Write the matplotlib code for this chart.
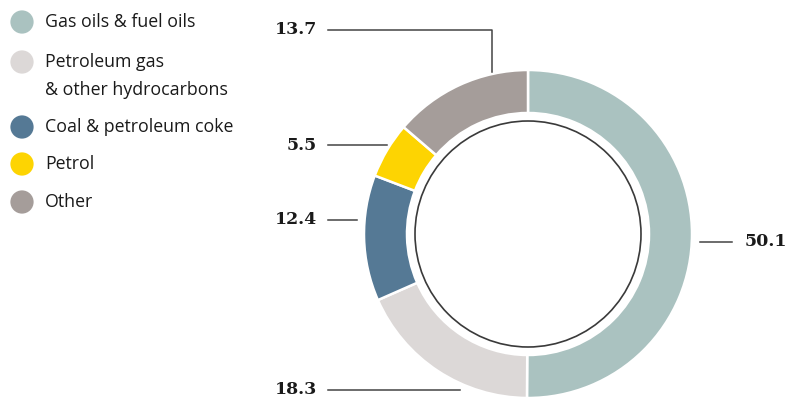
import matplotlib.pyplot as plt
from matplotlib.patches import Circle

# data
labels = ['Gas oils & fuel oils', 'Petroleum gas\n& other hydrocarbons',
          'Coal & petroleum coke', 'Petrol', 'Other']
values = [50.1, 18.3, 12.4, 5.5, 13.7]
colors = ['#aac2c0', '#dcd8d7', '#557995', '#fdd402', '#a59d9a']

W, H = 788, 401
fig = plt.figure(figsize=(W / 100, H / 100), dpi=100)
ax = fig.add_axes([0, 0, 1, 1])

cx, cy = 528, H - 234
r_out = 164
width = 43

wedges, _ = ax.pie(values, colors=colors, startangle=90, counterclock=False,
                   radius=r_out, center=(cx, cy), frame=True,
                   wedgeprops=dict(width=width, edgecolor='white', linewidth=1.8))
ax.add_patch(Circle((cx, cy), r_out - width - 8, fill=False, edgecolor='#3a3a3a', lw=1.2))

ax.set_xlim(0, W)
ax.set_ylim(0, H)
ax.set_aspect('equal')
ax.axis('off')

# value labels with leader lines (pixel coords from the top)
lab_font = dict(family='DejaVu Serif', fontweight='bold', fontsize=12.5, color='#1a1a1a')
leaders = {
    4: ([(328, 30), (492, 30), (492, 72)], (317, 30), 'right'),
    3: ([(328, 145), (387, 145)], (317, 145), 'right'),
    2: ([(328, 220), (357, 220)], (317, 220), 'right'),
    0: ([(700, 242), (732, 242)], (745, 242), 'left'),
    1: ([(328, 390), (460, 390)], (317, 390), 'right'),
}
for i, (pts, (tx, ty), ha) in leaders.items():
    xs = [p[0] for p in pts]
    ys = [H - p[1] for p in pts]
    ax.plot(xs, ys, color='#444444', lw=1.1)
    ax.text(tx, H - ty, f'{values[i]:.1f}', ha=ha, va='center', **lab_font)

# legend
leg_y = [22, 62, 127, 164, 202]
for lab, col, y in zip(labels, colors, leg_y):
    ax.scatter([22], [H - y], s=280, color=col, edgecolors='none')
    for k, line in enumerate(lab.split('\n')):
        ax.text(45, H - y - 28 * k, line, ha='left', va='center',
                fontsize=12.8, family='Open Sans', color='#1a1a1a')

fig.savefig('out.png', dpi=100)
